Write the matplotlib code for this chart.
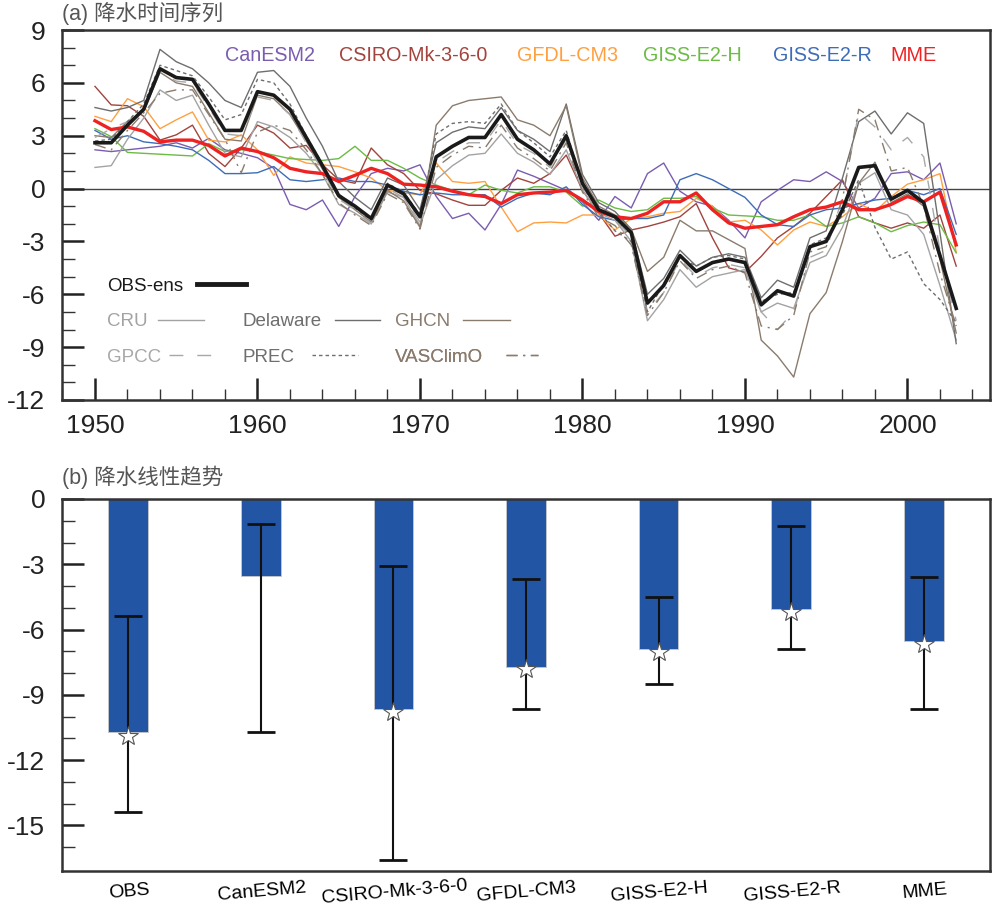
import numpy as np
import matplotlib
matplotlib.use('Agg')
import matplotlib.pyplot as plt

plt.rcParams['font.family'] = ['Liberation Sans', 'Noto Sans CJK SC', 'DejaVu Sans']
plt.rcParams['axes.unicode_minus'] = False

years = np.arange(1950, 2004)

# observations (ensemble mean and the six datasets)
obs_ens = [2.6, 2.6, 3.6, 4.5, 6.8, 6.3, 6.2, 4.8, 3.3, 3.3,
           5.5, 5.3, 4.5, 2.9, 1.3, -0.4, -1.0, -1.7, 0.2, -0.3,
           -1.6, 1.8, 2.4, 2.9, 2.9, 4.2, 2.8, 2.2, 1.4, 3.0,
           0.3, -1.2, -1.6, -2.5, -6.5, -5.5, -3.8, -4.7, -4.2, -4.0,
           -4.2, -6.6, -5.8, -6.1, -3.3, -3.0, -1.2, 1.2, 1.3, -0.6,
           -0.1, -0.8, -3.8, -6.8]
cru = [1.2, 1.3, 2.8, 4.0, 5.6, 5.0, 5.3, 3.6, 2.0, 1.8,
       3.8, 3.5, 2.9, 2.0, 0.8, -0.9, -1.4, -2.0, -0.2, -0.5,
       -2.1, 0.5, 1.3, 1.9, 2.0, 3.1, 2.0, 1.5, 0.8, 2.2,
       -0.1, -1.4, -1.8, -3.0, -7.5, -6.3, -4.6, -5.6, -5.0, -4.8,
       -4.6, -7.0, -6.5, -6.8, -4.2, -3.8, -2.2, 0.3, 0.9, -1.2,
       -1.5, -2.6, -5.5, -8.6]
delaware = [4.6, 4.4, 4.6, 5.0, 7.9, 7.2, 6.8, 6.0, 5.0, 4.6,
            6.6, 6.7, 5.8, 4.0, 2.4, 0.4, -0.5, -1.2, 0.6, 0.2,
            -1.2, 2.6, 3.2, 3.5, 3.4, 4.6, 3.3, 2.8, 2.1, 4.8,
            0.8, -0.8, -1.3, -2.3, -6.0, -5.1, -3.5, -4.4, -3.9, -3.7,
            -3.9, -6.2, -5.2, -5.6, -2.8, -2.4, 0.6, 3.8, 4.4, 3.1,
            4.3, 3.7, -2.5, -8.8]
ghcn = [3.0, 2.9, 3.8, 4.4, 6.6, 6.0, 5.8, 4.3, 2.8, 2.7,
        5.3, 5.1, 4.2, 2.7, 1.1, -0.5, -1.2, -1.9, -0.1, -0.7,
        -2.2, 3.6, 4.7, 5.0, 5.1, 5.2, 3.9, 3.6, 3.0, 4.7,
        0.6, -1.0, -1.5, -2.3, -4.7, -3.9, -1.8, -2.4, -2.4, -2.9,
        -3.4, -8.6, -9.5, -10.7, -7.1, -5.9, -3.0, 0.3, 1.5, -0.8,
        -0.3, -1.0, -4.0, -8.2]
gpcc = [2.9, 3.4, 3.8, 4.6, 6.6, 6.1, 6.0, 4.6, 3.1, 3.0,
        5.2, 5.0, 4.2, 2.6, 1.0, -0.6, -1.2, -2.0, 0.0, -0.5,
        -1.9, 1.5, 2.1, 2.6, 2.6, 3.9, 2.5, 2.0, 1.2, 2.8,
        0.1, -1.4, -1.8, -2.7, -7.0, -5.9, -4.0, -5.0, -4.5, -4.3,
        -4.5, -7.0, -8.0, -7.0, -3.9, -3.5, -0.5, 4.3, 3.5, 2.2,
        2.9, 1.8, -3.5, -7.5]
prec = [2.7, 2.8, 3.8, 4.8, 7.0, 6.7, 6.4, 5.2, 3.9, 4.2,
        6.2, 6.0, 4.8, 3.0, 1.4, -0.3, -1.1, -1.8, 0.3, -0.2,
        -1.5, 3.1, 3.7, 3.8, 3.7, 4.8, 3.3, 2.6, 1.8, 3.3,
        0.2, -1.3, -2.4, -3.0, -7.0, -5.4, -3.9, -4.4, -3.9, -3.8,
        -4.0, -6.4, -6.0, -5.9, -3.2, -2.8, -1.5, 0.5, -2.2, -4.0,
        -3.6, -5.4, -6.3, -7.6]
vasclimo = [2.5, 2.2, 3.3, 4.3, 5.4, 5.6, 5.6, 4.2, 2.8, 0.9,
            3.2, 3.6, 3.3, 2.2, 0.8, -0.8, -1.5, -2.1, -0.3, -0.8,
            -2.3, 1.2, 1.9, 2.4, 2.3, 3.6, 2.3, 1.7, 1.0, 2.6,
            -0.2, -1.6, -2.1, -3.2, -7.2, -5.9, -4.1, -5.1, -4.6, -4.4,
            -4.8, -7.8, -8.0, -7.2, -3.6, -3.3, -0.6, 4.5, 3.9, 1.0,
            1.2, -1.0, -4.8, -7.8]

# models
canesm2 = [2.2, 2.1, 2.2, 2.3, 2.4, 2.6, 2.3, 2.85, 2.2, 2.0,
           1.75, 1.15, -0.9, -1.2, -0.65, -2.15, -0.45, 0.85, 1.15, 1.0,
           1.35, -0.45, -1.7, -1.4, -2.35, -0.9, 1.05, 0.7, 0.3, -0.1,
           -0.75, -1.8, -0.45, -1.1, 0.85, 1.45, -0.15, -0.75, -1.0, -1.8,
           -2.8, -0.75, -0.1, 0.5, 0.4, 0.95, 0.4, -1.1, -0.55, 0.85,
           0.95, 0.5, 1.45, -2.0]
csiro = [5.8, 4.75, 4.7, 4.1, 2.75, 3.05, 3.6, 2.0, 1.25, 2.3,
         3.6, 3.15, 2.3, 2.45, 1.35, 0.5, 0.3, 2.3, 1.35, 0.85,
         -0.1, -0.3, -0.65, -0.95, -0.95, -0.1, 0.6, 0.3, 0.85, 1.9,
         -0.1, -1.4, -2.7, -2.35, -2.15, -1.9, -1.6, -0.85, -2.8, -4.5,
         -4.75, -3.85, -2.8, -2.15, -1.4, -0.45, 0.5, -1.6, -1.95, -2.25,
         -1.95, -2.25, -1.5, -4.4]
gfdl = [4.1, 3.8, 5.1, 4.65, 3.4, 3.9, 4.35, 2.75, 2.65, 3.05,
        2.2, 0.75, 1.8, 1.45, 1.35, 1.25, 0.95, 0.6, -0.1, -0.25,
        -0.35, 1.45, 0.4, 0.3, 0.4, -1.05, -2.45, -1.95, -1.9, -1.95,
        -1.5, -1.5, -2.35, -1.7, -1.6, -1.4, -1.3, -0.55, -1.0, -1.9,
        -1.8, -2.35, -3.2, -2.35, -1.9, -2.15, -1.6, -0.85, -1.3, -0.45,
        0.25, 0.5, 0.85, -3.6]
giss_h = [3.4, 2.95, 2.05, 2.0, 1.95, 1.9, 1.85, 2.55, 2.1, 2.2,
          2.1, 1.9, 1.7, 1.65, 1.6, 1.7, 2.4, 1.6, 1.6, 1.15,
          0.6, 0.2, -0.1, -0.35, 0.2, -0.1, -0.25, 0.1, 0.1, -0.2,
          -1.0, -0.65, -1.1, -1.3, -1.2, -0.55, -0.55, -0.45, -1.1, -1.5,
          -1.55, -1.6, -1.8, -1.8, -1.5, -2.15, -1.95, -1.6, -1.95, -2.45,
          -2.1, -1.9, -2.05, -3.65]
giss_r = [3.3, 2.8, 3.0, 2.65, 2.55, 2.4, 2.2, 1.6, 0.85, 0.85,
          0.9, 1.25, 0.5, 0.4, 0.5, 0.6, 0.4, 0.4, 0.2, -0.15,
          -0.35, -0.25, -0.35, -0.35, -0.35, -1.05, -0.55, -0.25, -0.35, 0.1,
          -0.9, -1.6, -1.8, -1.7, -1.7, -1.5, 0.5, 0.85, 0.5, 0.0,
          -0.5, -1.5, -2.05, -2.15, -1.5, -1.2, -1.1, -0.85, -0.65, -0.55,
          -0.1, -0.35, 0.0, -2.6]
mme = [3.85, 3.35, 3.5, 3.25, 2.65, 2.75, 2.75, 2.45, 1.85, 2.3,
       2.1, 1.75, 1.15, 0.95, 0.85, 0.4, 0.75, 1.15, 0.85, 0.25,
       0.2, 0.1, -0.15, -0.35, -0.45, -0.85, -0.35, -0.25, -0.2, -0.1,
       -0.65, -1.3, -1.6, -1.7, -1.4, -0.75, -0.75, -0.25, -1.2, -1.95,
       -2.25, -2.15, -2.05, -1.6, -1.2, -1.05, -0.75, -1.2, -1.2, -0.9,
       -0.45, -0.75, -0.2, -3.2]

# linear trends (panel b)
categories = ['OBS', 'CanESM2', 'CSIRO-Mk-3-6-0', 'GFDL-CM3', 'GISS-E2-H', 'GISS-E2-R', 'MME']
trend = [-10.7, -3.55, -9.65, -7.7, -6.9, -5.05, -6.55]
err_top = [-5.4, -1.15, -3.1, -3.7, -4.5, -1.25, -3.6]
err_bottom = [-14.4, -10.7, -16.6, -9.65, -8.5, -6.9, -9.65]
star_vals = [-10.9, np.nan, -9.8, -7.8, -7.05, -5.2, -6.65]

fig = plt.figure(figsize=(10, 9.11), dpi=100)
ax1 = fig.add_axes([0.062, 1 - 400 / 911, 0.928, 370 / 911])
ax2 = fig.add_axes([0.062, 1 - 871 / 911, 0.928, 372 / 911])

# ---- panel (a)
ax1.axhline(0, color='#444444', lw=1.0, zorder=1)
model_series = [('CanESM2', canesm2, '#7a5cb0'), ('CSIRO-Mk-3-6-0', csiro, '#a3433d'),
                ('GFDL-CM3', gfdl, '#ffa040'), ('GISS-E2-H', giss_h, '#6cbb45'),
                ('GISS-E2-R', giss_r, '#3d6db8')]
for name, vals, c in model_series:
    ax1.plot(years, vals, color=c, lw=1.0, zorder=2)

obs_lines = {}
obs_series = [('CRU', cru, '#a3a3a3', '-'), ('Delaware', delaware, '#6e6e6e', '-'),
              ('GHCN', ghcn, '#8a7b6c', '-'), ('GPCC', gpcc, '#a8a8a8', (0, (10, 10))),
              ('PREC', prec, '#6e6e6e', (0, (2.5, 2.2))), ('VASClimO', vasclimo, '#8a7b6c', (0, (8, 4, 1.5, 4)))]
for name, vals, c, ls in obs_series:
    obs_lines[name], = ax1.plot(years, vals, color=c, lw=1.0, ls=ls, zorder=3)

ax1.plot(years, mme, color='#ee2222', lw=2.4, zorder=4)
l_ens, = ax1.plot(years, obs_ens, color='#1a1a1a', lw=2.6, zorder=5)

ax1.set_xlim(1947.97, 2005.08)
ax1.set_ylim(-12, 9)
ax1.set_xticks(range(1950, 2001, 10))
ax1.set_xticks(range(1948, 2005, 2), minor=True)
ax1.set_yticks(range(-12, 10, 3))
ax1.set_yticks(range(-12, 10, 1), minor=True)

# model names across the top
name_x = [0.224, 0.378, 0.545, 0.679, 0.819, 0.917]
for (name, vals, c), xf in zip(model_series + [('MME', mme, '#ee2222')], name_x):
    ax1.text(xf, 0.932, name, color=c, fontsize=14.2, ha='center', va='center',
             transform=ax1.transAxes)

# legend: text first, then the line key, one small legend per entry
leg_kw = dict(frameon=False, markerfirst=False, borderpad=0, borderaxespad=0,
              fontsize=13.5, labelcolor='linecolor', loc='center left')
leg0 = ax1.legend([l_ens], ['OBS-ens'], bbox_to_anchor=(0.0485, 0.308),
                  handlelength=2.6, handletextpad=0.75, **leg_kw)
leg0.get_lines()[0].set_linewidth(3.5)
ax1.add_artist(leg0)
entry_pos = [('CRU', 0.0485, 0.211, 0.53, 2.45), ('Delaware', 0.195, 0.211, 0.69, 2.4),
             ('GHCN', 0.359, 0.211, 0.69, 2.5), ('GPCC', 0.0485, 0.116, 0.43, 2.35),
             ('PREC', 0.195, 0.116, 0.9, 2.45), ('VASClimO', 0.359, 0.116, 1.2, 1.7)]
for name, xf, yf, pad, hl in entry_pos:
    lg = ax1.legend([obs_lines[name]], [name], bbox_to_anchor=(xf, yf),
                    handlelength=hl, handletextpad=pad, **leg_kw)
    ax1.add_artist(lg)

ax1.text(0.0, 1.045, '(a) 降水时间序列', transform=ax1.transAxes, fontsize=15.5,
         color='#555555', ha='left', va='center')

# ---- panel (b)
x = np.arange(len(categories))
ax2.bar(x, trend, width=0.3, color='#2355a5', edgecolor='#c8c8c8', linewidth=0.6, zorder=2)
yerr = [np.array(trend) - np.array(err_bottom), np.array(err_top) - np.array(trend)]
ax2.errorbar(x, trend, yerr=yerr, fmt='none', ecolor='#111111', elinewidth=1.5,
             capsize=10, capthick=2, zorder=3)
ax2.plot(x, star_vals, ls='none', marker='*', ms=15, mfc='white', mec='#555555',
         mew=0.8, zorder=4)

ax2.set_xlim(-0.5, 6.5)
ax2.set_ylim(-17.1, 0)
ax2.set_yticks(range(-15, 1, 3))
ax2.set_yticks(range(-16, 1, 1), minor=True)
ax2.set_xticks(x)
ax2.set_xticklabels(categories, rotation=5, fontsize=14, rotation_mode='anchor',
                    ha='center', va='top')
ax2.tick_params(axis='x', length=0, pad=9)
ax2.text(0.0, 1.058, '(b) 降水线性趋势', transform=ax2.transAxes, fontsize=15.5,
         color='#555555', ha='left', va='center')

for ax in (ax1, ax2):
    for sp in ax.spines.values():
        sp.set_linewidth(1.8)
        sp.set_color('#333333')
    ax.tick_params(axis='y', which='major', direction='in', length=16, width=1.8,
                   labelsize=19, pad=12, colors='#222222')
    ax.tick_params(axis='y', which='minor', direction='in', length=9, width=1.0,
                   colors='#333333')
ax1.tick_params(axis='x', which='major', direction='in', length=16, width=1.8,
                labelsize=19, pad=10, colors='#222222')
ax1.tick_params(axis='x', which='minor', direction='in', length=8, width=1.0,
                colors='#333333')

fig.savefig('out.png', dpi=100)
